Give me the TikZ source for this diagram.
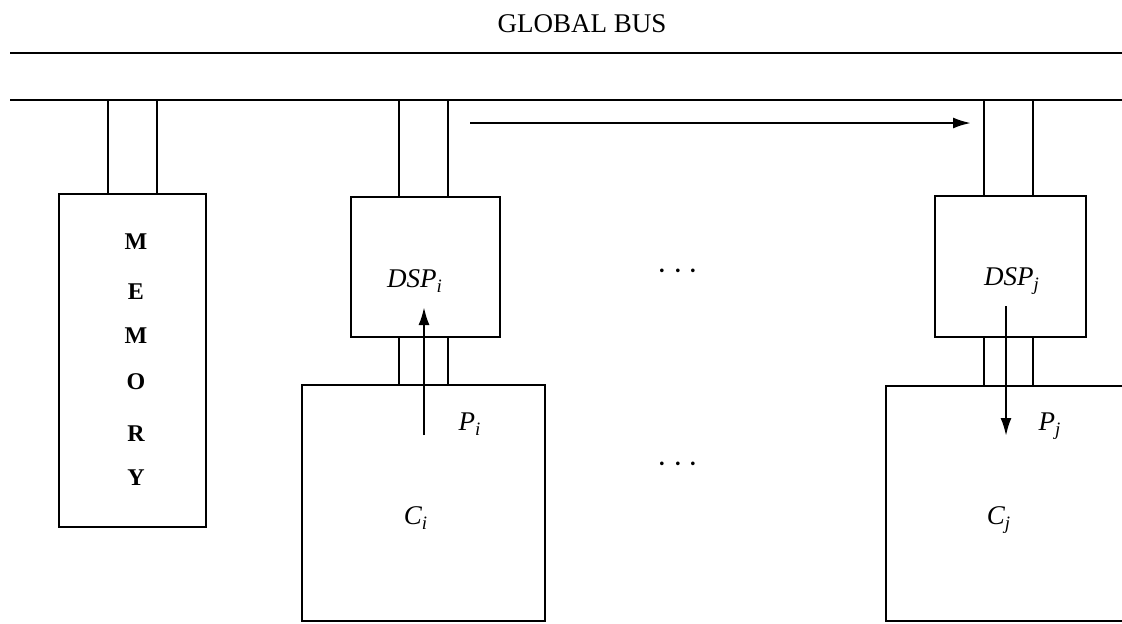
\documentclass[tikz,border=0pt]{standalone}
\usepackage{fontspec}
\setmainfont{Liberation Serif}
\usetikzlibrary{arrows.meta}
\begin{document}
\begin{tikzpicture}[x=0.5pt,y=-0.5pt,line width=1.15pt,
  box/.style={draw,line width=1.15pt,inner sep=0pt,outer sep=0pt},
  lbl/.style={font=\fontsize{13.5}{16}\selectfont\itshape,inner sep=0pt},
  memletter/.style={font=\fontsize{12}{14}\selectfont\bfseries,inner sep=0pt},
  flow/.style={-{Latex[length=9pt,width=5.5pt]},line width=1.15pt},
  dotrow/.style={inner sep=0pt,font=\fontsize{19}{20}\selectfont}]
\useasboundingbox (0,0) rectangle (1122,623);
% bus
\node[font=\fontsize{13.5}{16}\selectfont,inner sep=0pt] (title) at (582,24) {GLOBAL BUS};
\coordinate (busAl) at (10,53);
\coordinate (busAr) at (1122,53);
\coordinate (busBl) at (10,100);
\coordinate (busBr) at (1122,100);
\draw (busAl) -- (busAr);
\draw (busBl) -- (busBr);
% boxes
\node[box,minimum width=73.5pt,minimum height=166.5pt] (mem) at (132.5,360.5) {};
\node[box,minimum width=74.5pt,minimum height=70pt] (dspi) at (425.5,267) {};
\node[box,minimum width=121.5pt,minimum height=118pt] (ci) at (423.5,503) {};
\node[box,minimum width=75.5pt,minimum height=70.5pt] (dspj) at (1010.5,266.5) {};
\coordinate (cjtr) at (1122,386);
\coordinate (cjtl) at (886,386);
\coordinate (cjbl) at (886,621);
\coordinate (cjbr) at (1122,621);
\draw (cjtr) -- (cjtl) -- (cjbl) -- (cjbr);
% stubs from bus
\foreach \x/\n in {108/mem,157/mem,399/dspi,448/dspi,984/dspj,1033/dspj}{
  \coordinate (s) at (\x,100);
  \draw (s) -- (s |- \n.north);
}
% stubs between DSP and C
\foreach \x in {399,448}{
  \coordinate (s) at (\x,0);
  \draw (s |- dspi.south) -- (s |- ci.north);
}
\foreach \x in {984,1033}{
  \coordinate (s) at (\x,0);
  \draw (s |- dspj.south) -- (s |- cjtl);
}
% memory letters
\foreach \l/\y [count=\k] in {M/242,E/292,M/336,O/382,R/434,Y/478}{
  \node[memletter] (m\k) at (136,\y) {\l};
}
% labels
\node[lbl] (ldspi) at (415,281) {DSP\textsubscript{\textit{i}}};
\node[lbl] (lpi) at (470,424) {P\textsubscript{\textit{i}}};
\node[lbl] (lci) at (416,518) {C\textsubscript{\textit{i}}};
\node[lbl] (ldspj) at (1012,281) {DSP\textsubscript{\textit{j}}};
\node[lbl] (lpj) at (1050,426) {P\textsubscript{\textit{j}}};
\node[lbl] (lcj) at (999,520) {C\textsubscript{\textit{j}}};
\node[dotrow] (dots1) at (678,272) {$\cdots$};
\node[dotrow] (dots2) at (678,465) {$\cdots$};
% arrows
\coordinate (hA) at (470,123);
\coordinate (hB) at (971,123);
\draw[flow] (hA) -- (hB);
\coordinate (upA) at (424,435);
\coordinate (upB) at (424,307);
\draw[flow] (upA) -- (upB);
\coordinate (dnA) at (1006,306);
\coordinate (dnB) at (1006,436);
\draw[flow] (dnA) -- (dnB);
\end{tikzpicture}
\end{document}
